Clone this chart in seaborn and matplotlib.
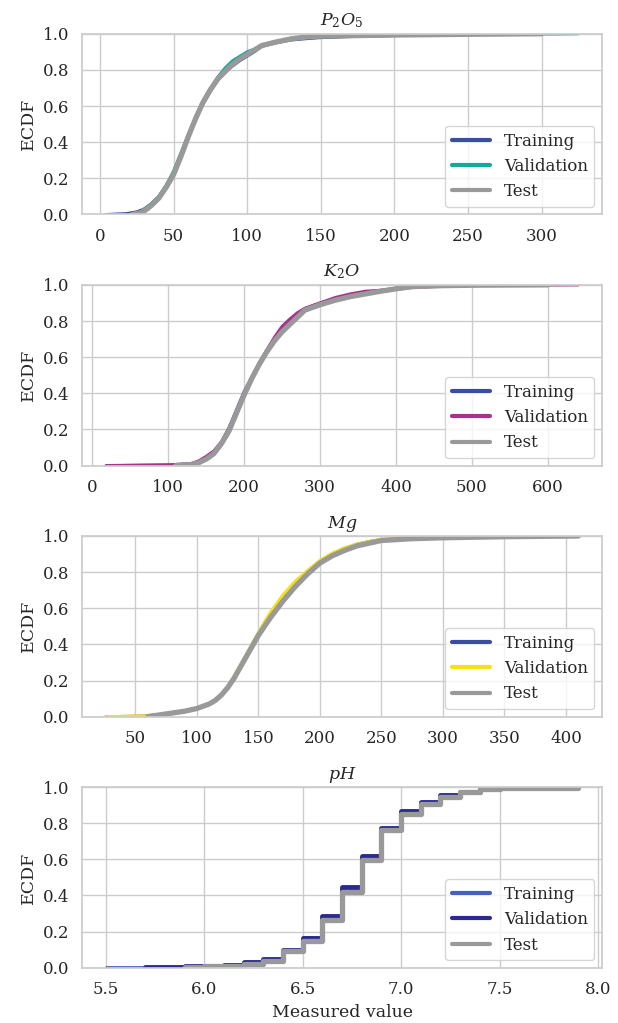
import matplotlib
matplotlib.use("Agg")
import matplotlib.pyplot as plt
import seaborn as sns
import pandas as pd

# ---------------- data ----------------
series_names = ["Training", "Validation", "Test"]
panel_titles = ["$P_2O_5$", "$K_2O$", "$Mg$", "$pH$"]

# P2O5
p2o5_train_x = [4, 18, 25, 30, 35, 40, 45, 50, 55, 60, 65, 70, 75, 80, 85, 90, 95, 100, 105, 110, 120, 130, 140, 150, 175, 200, 250, 300]
p2o5_train_y = [0.0, 0.005, 0.015, 0.03, 0.06, 0.10, 0.16, 0.23, 0.33, 0.43, 0.53, 0.61, 0.68, 0.74, 0.79, 0.82, 0.85, 0.875, 0.90, 0.93, 0.95, 0.965, 0.972, 0.978, 0.985, 0.99, 0.996, 1.0]
p2o5_val_x = [20, 27, 30, 35, 40, 45, 50, 55, 60, 65, 70, 75, 80, 85, 90, 95, 100, 105, 110, 120, 130, 140, 150, 175, 200, 250, 310, 325]
p2o5_val_y = [0.0, 0.01, 0.03, 0.06, 0.10, 0.16, 0.24, 0.34, 0.44, 0.54, 0.62, 0.69, 0.76, 0.81, 0.85, 0.875, 0.90, 0.915, 0.935, 0.955, 0.97, 0.978, 0.982, 0.987, 0.99, 0.996, 0.999, 1.0]
p2o5_test_x = [22, 28, 32, 35, 40, 45, 50, 55, 60, 65, 70, 75, 80, 85, 90, 95, 100, 105, 110, 120, 130, 140, 150, 175, 200, 250, 300]
p2o5_test_y = [0.0, 0.01, 0.03, 0.05, 0.09, 0.15, 0.22, 0.32, 0.43, 0.53, 0.62, 0.69, 0.75, 0.79, 0.83, 0.86, 0.885, 0.91, 0.935, 0.955, 0.972, 0.982, 0.987, 0.99, 0.993, 0.997, 1.0]

# K2O
k2o_train_x = [18, 100, 130, 140, 150, 160, 170, 180, 190, 200, 210, 220, 230, 240, 250, 260, 270, 280, 300, 320, 340, 360, 380, 400, 420, 450, 500, 600]
k2o_train_y = [0.0, 0.003, 0.01, 0.02, 0.04, 0.07, 0.13, 0.21, 0.31, 0.41, 0.49, 0.57, 0.64, 0.70, 0.75, 0.80, 0.84, 0.87, 0.90, 0.925, 0.945, 0.96, 0.97, 0.982, 0.99, 0.995, 0.998, 1.0]
k2o_val_x = [20, 100, 130, 140, 150, 160, 170, 180, 190, 200, 210, 220, 230, 240, 250, 260, 270, 280, 300, 320, 340, 360, 380, 400, 420, 450, 500, 640]
k2o_val_y = [0.0, 0.004, 0.01, 0.025, 0.05, 0.08, 0.13, 0.20, 0.29, 0.39, 0.48, 0.56, 0.64, 0.71, 0.77, 0.81, 0.845, 0.87, 0.90, 0.93, 0.95, 0.965, 0.97, 0.975, 0.985, 0.99, 0.997, 1.0]
k2o_test_x = [110, 130, 140, 150, 160, 170, 180, 190, 200, 210, 220, 230, 240, 250, 260, 270, 280, 300, 320, 340, 360, 380, 400, 420, 450, 500, 600]
k2o_test_y = [0.0, 0.005, 0.015, 0.035, 0.065, 0.12, 0.19, 0.29, 0.39, 0.48, 0.56, 0.63, 0.69, 0.74, 0.78, 0.82, 0.86, 0.89, 0.915, 0.935, 0.95, 0.965, 0.978, 0.99, 0.995, 0.998, 1.0]

# Mg
mg_train_x = [26, 50, 60, 70, 80, 90, 100, 110, 115, 120, 125, 130, 135, 140, 145, 150, 155, 160, 170, 180, 190, 200, 210, 220, 230, 240, 250, 275, 300, 350, 400]
mg_train_y = [0.0, 0.003, 0.006, 0.012, 0.02, 0.03, 0.045, 0.07, 0.09, 0.12, 0.16, 0.21, 0.27, 0.33, 0.39, 0.45, 0.51, 0.56, 0.65, 0.73, 0.80, 0.86, 0.90, 0.93, 0.955, 0.97, 0.98, 0.99, 0.995, 0.999, 1.0]
mg_val_x = [26, 50, 60, 70, 80, 90, 100, 110, 115, 120, 125, 130, 135, 140, 145, 150, 155, 160, 170, 180, 190, 200, 210, 220, 230, 240, 250, 275, 300, 310]
mg_val_y = [0.0, 0.003, 0.006, 0.012, 0.02, 0.03, 0.045, 0.07, 0.09, 0.12, 0.165, 0.22, 0.28, 0.34, 0.405, 0.465, 0.525, 0.58, 0.675, 0.75, 0.81, 0.865, 0.905, 0.935, 0.955, 0.97, 0.982, 0.992, 0.998, 1.0]
mg_test_x = [60, 70, 80, 90, 100, 110, 115, 120, 125, 130, 135, 140, 145, 150, 155, 160, 170, 180, 190, 200, 210, 220, 230, 240, 250, 275, 300, 350, 410]
mg_test_y = [0.0, 0.01, 0.02, 0.03, 0.045, 0.07, 0.09, 0.12, 0.16, 0.21, 0.27, 0.33, 0.39, 0.45, 0.50, 0.55, 0.64, 0.72, 0.79, 0.85, 0.89, 0.92, 0.945, 0.96, 0.975, 0.985, 0.99, 0.996, 1.0]

# pH (stepwise ECDF)
ph_train_x = [5.5, 5.9, 6.0, 6.1, 6.2, 6.3, 6.4, 6.5, 6.6, 6.7, 6.8, 6.9, 7.0, 7.1, 7.2, 7.3, 7.4, 7.5, 7.9]
ph_train_y = [0.002, 0.006, 0.01, 0.015, 0.03, 0.05, 0.10, 0.17, 0.285, 0.44, 0.615, 0.775, 0.865, 0.92, 0.955, 0.98, 0.99, 0.997, 1.0]
ph_val_x = [5.7, 5.9, 6.0, 6.1, 6.2, 6.3, 6.4, 6.5, 6.6, 6.7, 6.8, 6.9, 7.0, 7.1, 7.2, 7.3, 7.4, 7.5, 7.8]
ph_val_y = [0.003, 0.007, 0.01, 0.015, 0.03, 0.05, 0.10, 0.165, 0.285, 0.445, 0.62, 0.775, 0.865, 0.92, 0.955, 0.975, 0.99, 0.997, 1.0]
ph_test_x = [5.9, 6.0, 6.1, 6.2, 6.3, 6.4, 6.5, 6.6, 6.7, 6.8, 6.9, 7.0, 7.1, 7.2, 7.3, 7.4, 7.5, 7.9]
ph_test_y = [0.005, 0.008, 0.012, 0.02, 0.04, 0.09, 0.15, 0.265, 0.42, 0.595, 0.76, 0.85, 0.905, 0.945, 0.975, 0.99, 0.997, 1.0]

train_color = "#3a4ea0"
val_colors = ["#16a99a", "#a8308f", "#f7e017", "#2c2a8f"]
ph_train_color = "#4563b8"
test_color = "#999999"

# ---------------- style ----------------
sns.set_theme(style="whitegrid", context="notebook")
plt.rcParams["font.family"] = ["DejaVu Serif"]
plt.rcParams["mathtext.fontset"] = "dejavuserif"

fig, axes = plt.subplots(4, 1, figsize=(6.18, 10.23), dpi=100)
fig.subplots_adjust(left=0.133, right=0.974, top=0.967, bottom=0.054, hspace=0.39)

panels = [
    (p2o5_train_x, p2o5_train_y, p2o5_val_x, p2o5_val_y, p2o5_test_x, p2o5_test_y),
    (k2o_train_x, k2o_train_y, k2o_val_x, k2o_val_y, k2o_test_x, k2o_test_y),
    (mg_train_x, mg_train_y, mg_val_x, mg_val_y, mg_test_x, mg_test_y),
    (ph_train_x, ph_train_y, ph_val_x, ph_val_y, ph_test_x, ph_test_y),
]

for i, (ax, pdata) in enumerate(zip(axes, panels)):
    tx, ty, vx, vy, sx, sy = pdata
    frames = []
    for name, xs, ys in zip(series_names, [tx, vx, sx], [ty, vy, sy]):
        frames.append(pd.DataFrame({"value": xs, "ecdf": ys, "set": name}))
    df = pd.concat(frames, ignore_index=True)
    tcol = ph_train_color if i == 3 else train_color
    palette = {"Training": tcol, "Validation": val_colors[i], "Test": test_color}
    kw = dict(drawstyle="steps-post") if i == 3 else {}
    for name, lw in zip(series_names, [2.0, 2.2 if i < 3 else 3.5, 3.8]):
        sub = df[df["set"] == name]
        sns.lineplot(data=sub, x="value", y="ecdf", color=palette[name], lw=lw,
                     ax=ax, label=name, estimator=None, sort=True, **kw)
    ax.set_ylim(0, 1)
    allx = df["value"]
    span = allx.max() - allx.min()
    ax.set_xlim(allx.min() - 0.05 * span, allx.max() + 0.05 * span)
    ax.set_title(panel_titles[i], fontsize=12.5)
    ax.set_ylabel("ECDF", fontsize=12.5)
    ax.set_xlabel("Measured value" if i == 3 else "", fontsize=12.5)
    ax.tick_params(labelsize=12)
    leg = ax.legend(loc="lower right", fontsize=12, frameon=True, handlelength=2.3,
                    borderaxespad=0.45)
    for h in leg.get_lines():
        h.set_linewidth(3)

fig.savefig("out.png", dpi=100)
